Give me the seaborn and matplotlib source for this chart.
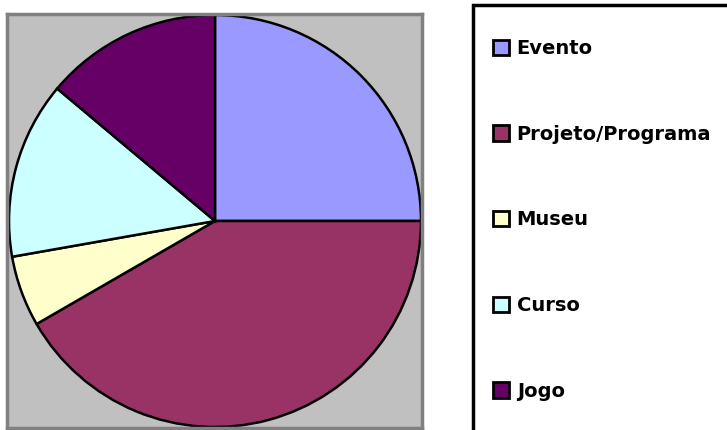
import matplotlib
matplotlib.use("Agg")
import matplotlib.pyplot as plt
import matplotlib.patches as mpatches
import seaborn as sns

# =====================================================
# DATA
# =====================================================

categories = ["Evento", "Projeto/Programa", "Museu", "Curso", "Jogo"]
counts = [9, 15, 2, 5, 5]
colors = ["#9999FF", "#993366", "#FFFFCC", "#CCFFFF", "#660066"]

# =====================================================
# STYLE
# =====================================================

sns.set_theme(style="white")
plt.rcParams["font.family"] = ["DejaVu Sans"]

W, H = 727, 430
fig = plt.figure(figsize=(W / 100, H / 100), dpi=100)
fig.patch.set_facecolor("white")

# plot area (grey box)
ax = fig.add_axes([7 / W, (H - 428) / H, 415 / W, 414 / H])

wedges, _ = ax.pie(
    counts,
    colors=colors,
    startangle=90,
    counterclock=False,
    radius=1.0,
    wedgeprops=dict(edgecolor="black", linewidth=1.8),
)
ax.set_frame_on(True)
ax.set_facecolor("#C0C0C0")
for s in ax.spines.values():
    s.set_visible(True)
    s.set_color("#808080")
    s.set_linewidth(2.5)
ax.set_aspect("equal")
ax.set_xlim(-208 / 206, 207 / 206)
ax.set_ylim(-207 / 206, 207 / 206)
ax.set_xticks([])
ax.set_yticks([])

# legend box
box = mpatches.Rectangle(
    (473 / W, -0.1), 0.5, (H - 5) / H + 0.1,
    transform=fig.transFigure, facecolor="white",
    edgecolor="black", linewidth=2.5, clip_on=False,
)
fig.patches.append(box)

leg = fig.legend(
    wedges,
    categories,
    loc="upper left",
    bbox_to_anchor=(493 / W, (H - 39) / H),
    frameon=False,
    prop=dict(weight="bold", size=14),
    labelcolor="black",
    handlelength=0.82,
    handleheight=0.82,
    handletextpad=0.4,
    labelspacing=3.43,
    borderpad=0,
    borderaxespad=0,
)
for h in leg.legend_handles:
    h.set_edgecolor("black")
    h.set_linewidth(2)

plt.savefig("out.png", dpi=100)
plt.close()
